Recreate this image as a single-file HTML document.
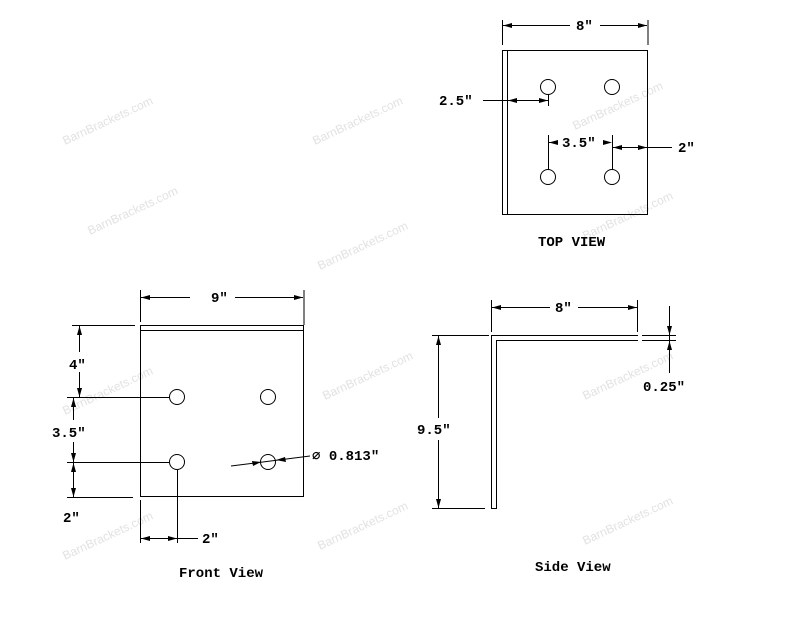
<!DOCTYPE html>
<html><head><meta charset="utf-8"><style>body{margin:0;background:#fff}svg{display:block}</style></head><body>
<svg width="800" height="618" viewBox="0 0 800 618" xmlns="http://www.w3.org/2000/svg">
<g font-family="Liberation Sans, sans-serif" font-size="12" fill="#e2e2e2">
<text transform="translate(65,145) rotate(-25)">BarnBrackets.com</text>
<text transform="translate(315,145) rotate(-25)">BarnBrackets.com</text>
<text transform="translate(575,130) rotate(-25)">BarnBrackets.com</text>
<text transform="translate(90,235) rotate(-25)">BarnBrackets.com</text>
<text transform="translate(320,270) rotate(-25)">BarnBrackets.com</text>
<text transform="translate(585,240) rotate(-25)">BarnBrackets.com</text>
<text transform="translate(65,415) rotate(-25)">BarnBrackets.com</text>
<text transform="translate(325,400) rotate(-25)">BarnBrackets.com</text>
<text transform="translate(585,400) rotate(-25)">BarnBrackets.com</text>
<text transform="translate(65,560) rotate(-25)">BarnBrackets.com</text>
<text transform="translate(320,550) rotate(-25)">BarnBrackets.com</text>
<text transform="translate(585,545) rotate(-25)">BarnBrackets.com</text>
</g>
<g stroke="#000" stroke-width="1" fill="none">
<rect x="502.5" y="50.5" width="145" height="164"/>
<line x1="507.5" y1="50" x2="507.5" y2="214"/>
<line x1="502.5" y1="20" x2="502.5" y2="45"/><line x1="648" y1="20" x2="648" y2="45"/>
<line x1="503" y1="25.5" x2="570" y2="25.5"/><line x1="600" y1="25.5" x2="647" y2="25.5"/>
<circle cx="548" cy="87" r="7.5"/><circle cx="612" cy="87" r="7.5"/>
<circle cx="548" cy="177" r="7.5"/><circle cx="612" cy="177" r="7.5"/>
<line x1="483" y1="100.5" x2="548" y2="100.5"/><line x1="548.5" y1="94" x2="548.5" y2="106"/>
<line x1="548.5" y1="135" x2="548.5" y2="169"/><line x1="612.5" y1="135" x2="612.5" y2="169"/>
<line x1="549" y1="142.5" x2="558" y2="142.5"/>
<line x1="612" y1="147.5" x2="672" y2="147.5"/>
<rect x="140.5" y="325.5" width="163" height="171"/>
<line x1="141" y1="330.5" x2="303" y2="330.5"/>
<line x1="140.5" y1="290" x2="140.5" y2="322"/><line x1="304" y1="290" x2="304" y2="325"/>
<line x1="141" y1="297.5" x2="190" y2="297.5"/><line x1="235" y1="297.5" x2="303" y2="297.5"/>
<circle cx="177" cy="397" r="7.5"/><circle cx="268" cy="397" r="7.5"/>
<circle cx="177" cy="462" r="7.5"/><circle cx="268" cy="462" r="7.5"/>
<line x1="72" y1="325.5" x2="135" y2="325.5"/>
<line x1="67" y1="397.5" x2="169" y2="397.5"/>
<line x1="67" y1="462.5" x2="169" y2="462.5"/>
<line x1="67" y1="497.5" x2="133" y2="497.5"/>
<line x1="79.5" y1="326" x2="79.5" y2="352"/><line x1="79.5" y1="372" x2="79.5" y2="397"/>
<line x1="73.5" y1="398" x2="73.5" y2="420"/><line x1="73.5" y1="442" x2="73.5" y2="497"/>
<line x1="140.5" y1="500" x2="140.5" y2="543"/><line x1="177.5" y1="470" x2="177.5" y2="543"/>
<line x1="141" y1="538.5" x2="198" y2="538.5"/>
<line x1="231" y1="466" x2="310" y2="456"/>
<path d="M638 335.5 H491.5 V508.5 H496.5 V340.5 H638"/>
<line x1="491.5" y1="300" x2="491.5" y2="332"/><line x1="637.5" y1="300" x2="637.5" y2="332"/>
<line x1="492" y1="307.5" x2="550" y2="307.5"/><line x1="578" y1="307.5" x2="637" y2="307.5"/>
<line x1="642" y1="335.5" x2="676" y2="335.5"/><line x1="642" y1="340.5" x2="676" y2="340.5"/>
<line x1="669.5" y1="306" x2="669.5" y2="373"/>
<line x1="432" y1="335.5" x2="489" y2="335.5"/><line x1="432" y1="508.5" x2="485" y2="508.5"/>
<line x1="438.5" y1="336" x2="438.5" y2="418"/><line x1="438.5" y1="440" x2="438.5" y2="508"/>
</g>
<g fill="#000">
<path d="M503 25.5 l9 -2.5 v5z"/><path d="M647 25.5 l-9 -2.5 v5z"/>
<path d="M508 100.5 l9 -2.5 v5z"/><path d="M548 100.5 l-9 -2.5 v5z"/>
<path d="M549 142.5 l9 -2.5 v5z"/><path d="M612 142.5 l-9 -2.5 v5z"/>
<path d="M613 147.5 l9 -2.5 v5z"/><path d="M647 147.5 l-9 -2.5 v5z"/>
<path d="M141 297.5 l9 -2.5 v5z"/><path d="M303 297.5 l-9 -2.5 v5z"/>
<path d="M79.5 326 l-2.5 9 h5z"/><path d="M79.5 397 l-2.5 -9 h5z"/>
<path d="M73.5 398 l-2.5 9 h5z"/><path d="M73.5 462 l-2.5 -9 h5z"/>
<path d="M73.5 463 l-2.5 9 h5z"/><path d="M73.5 497 l-2.5 -9 h5z"/>
<path d="M141 538.5 l9 -2.5 v5z"/><path d="M177 538.5 l-9 -2.5 v5z"/>
<path d="M261 462 l-9 -1 l1 5z"/><path d="M276 460 l9 -3 l1 5z"/>
<path d="M492 307.5 l9 -2.5 v5z"/><path d="M637 307.5 l-9 -2.5 v5z"/>
<path d="M669.5 335 l-2.5 -9 h5z"/><path d="M669.5 341 l-2.5 9 h5z"/>
<path d="M438.5 336 l-2.5 9 h5z"/><path d="M438.5 508 l-2.5 -9 h5z"/>
</g>
<g font-family="Liberation Mono, monospace" font-weight="bold" font-size="14" fill="#000">
<text x="576" y="30">8″</text>
<text x="439" y="105">2.5″</text>
<text x="562" y="147">3.5″</text>
<text x="678" y="152">2″</text>
<text x="538" y="246">TOP VIEW</text>
<text x="211" y="302">9″</text>
<text x="69" y="369">4″</text>
<text x="52" y="437">3.5″</text>
<text x="63" y="522">2″</text>
<text x="202" y="543">2″</text>
<text x="312" y="460">∅ 0.813″</text>
<text x="179" y="577">Front View</text>
<text x="555" y="312">8″</text>
<text x="643" y="391">0.25″</text>
<text x="417" y="434">9.5″</text>
<text x="535" y="571">Side View</text>
</g>
</svg>
</body></html>
